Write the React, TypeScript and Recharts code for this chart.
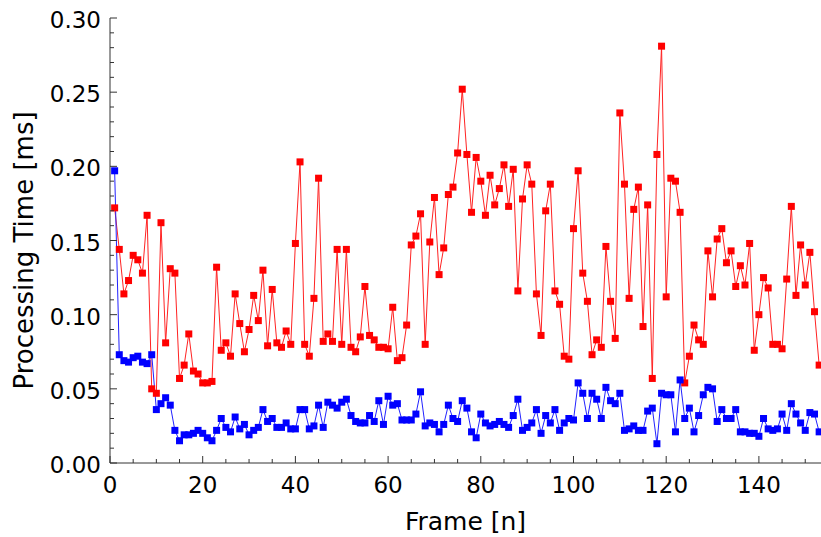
import { Label, Line, LineChart, XAxis, YAxis } from 'recharts'

// processing time per frame [ms], frames 1..153
const RED = [
  0.172, 0.144, 0.114, 0.123, 0.14, 0.137, 0.128, 0.167, 0.05, 0.047,
  0.162, 0.081, 0.131, 0.128, 0.057, 0.066, 0.087, 0.062, 0.06, 0.054,
  0.054, 0.055, 0.132, 0.076, 0.081, 0.072, 0.114, 0.094, 0.075, 0.09,
  0.113, 0.096, 0.13, 0.079, 0.117, 0.081, 0.078, 0.089, 0.08, 0.148,
  0.203, 0.08, 0.072, 0.111, 0.192, 0.082, 0.087, 0.082, 0.144, 0.08,
  0.144, 0.078, 0.075, 0.085, 0.119, 0.086, 0.083, 0.078, 0.078, 0.077,
  0.105, 0.069, 0.071, 0.093, 0.147, 0.153, 0.168, 0.08, 0.149, 0.179,
  0.127, 0.145, 0.181, 0.186, 0.209, 0.252, 0.208, 0.169, 0.206, 0.19,
  0.167, 0.194, 0.174, 0.185, 0.201, 0.173, 0.198, 0.116, 0.178, 0.201,
  0.188, 0.114, 0.086, 0.17, 0.188, 0.116, 0.107, 0.072, 0.07, 0.158,
  0.197, 0.128, 0.109, 0.073, 0.083, 0.078, 0.146, 0.109, 0.084, 0.236,
  0.188, 0.111, 0.171, 0.186, 0.092, 0.174, 0.057, 0.208, 0.281, 0.112,
  0.192, 0.19, 0.169, 0.054, 0.072, 0.093, 0.083, 0.08, 0.143, 0.112,
  0.151, 0.158, 0.135, 0.143, 0.119, 0.133, 0.12, 0.148, 0.076, 0.1,
  0.125, 0.118, 0.08, 0.08, 0.077, 0.124, 0.173, 0.113, 0.147, 0.12,
  0.142, 0.102, 0.066,
]

const BLUE = [
  0.197, 0.073, 0.069, 0.068, 0.071, 0.072, 0.068, 0.067, 0.073, 0.036,
  0.04, 0.044, 0.039, 0.022, 0.015, 0.019, 0.019, 0.02, 0.022, 0.02,
  0.017, 0.015, 0.022, 0.03, 0.024, 0.021, 0.031, 0.023, 0.026, 0.019,
  0.022, 0.024, 0.036, 0.028, 0.03, 0.024, 0.024, 0.027, 0.023, 0.023,
  0.036, 0.036, 0.023, 0.025, 0.039, 0.024, 0.041, 0.039, 0.037, 0.041,
  0.043, 0.032, 0.028, 0.027, 0.027, 0.032, 0.028, 0.042, 0.026, 0.045,
  0.039, 0.04, 0.029, 0.029, 0.029, 0.033, 0.048, 0.025, 0.027, 0.026,
  0.021, 0.026, 0.039, 0.03, 0.028, 0.042, 0.037, 0.021, 0.017, 0.033,
  0.027, 0.025, 0.026, 0.028, 0.026, 0.024, 0.032, 0.043, 0.022, 0.024,
  0.027, 0.036, 0.02, 0.032, 0.027, 0.036, 0.022, 0.027, 0.03, 0.029,
  0.054, 0.047, 0.03, 0.047, 0.043, 0.03, 0.051, 0.042, 0.04, 0.047,
  0.022, 0.023, 0.025, 0.022, 0.022, 0.035, 0.037, 0.013, 0.047, 0.046,
  0.046, 0.021, 0.056, 0.03, 0.037, 0.021, 0.032, 0.046, 0.051, 0.05,
  0.028, 0.036, 0.03, 0.03, 0.036, 0.021, 0.021, 0.02, 0.02, 0.018,
  0.03, 0.023, 0.022, 0.023, 0.033, 0.022, 0.04, 0.033, 0.027, 0.022,
  0.034, 0.033, 0.021,
]

const X_TICKS = [
  0, 5, 10, 15, 20, 25, 30, 35, 40, 45, 50, 55, 60, 65, 70, 75, 80, 85, 90,
  95, 100, 105, 110, 115, 120, 125, 130, 135, 140, 145, 150,
]
const Y_TICKS = [
  0, 0.01, 0.02, 0.03, 0.04, 0.05, 0.06, 0.07, 0.08, 0.09, 0.1, 0.11, 0.12,
  0.13, 0.14, 0.15, 0.16, 0.17, 0.18, 0.19, 0.2, 0.21, 0.22, 0.23, 0.24, 0.25,
  0.26, 0.27, 0.28, 0.29, 0.3,
]
const X_MAX = 153.4

const data = RED.map((r, i) => ({ frame: i + 1, red: r, blue: BLUE[i] }))

const FONT = '"DejaVu Sans", Verdana, sans-serif'
const AXIS = '#333'
const FS = 23

function BottomTick({ x, y, payload }: any) {
  const v = payload.value
  const major = v % 20 === 0
  return (
    <g>
      <line x1={x} y1={y} x2={x} y2={y - (major ? 7 : 4)} stroke={AXIS} />
      {major && (
        <text x={x} y={y + 30} textAnchor="middle" fontSize={FS} fontFamily={FONT} fill="#000">
          {v}
        </text>
      )}
    </g>
  )
}

function TopTick({ x, y, payload }: any) {
  const major = payload.value % 20 === 0
  return <line x1={x} y1={y} x2={x} y2={y + (major ? 7 : 4)} stroke={AXIS} />
}

function LeftTick({ x, y, payload }: any) {
  const v = payload.value
  const major = Math.round(v * 100) % 5 === 0
  return (
    <g>
      <line x1={x} y1={y} x2={x + (major ? 7 : 4)} y2={y} stroke={AXIS} />
      {major && (
        <text x={x - 9} y={y + 10} textAnchor="end" fontSize={FS} fontFamily={FONT} fill="#000">
          {v.toFixed(2)}
        </text>
      )}
    </g>
  )
}

function square(color: string) {
  return (props: any) => {
    const { cx, cy, index } = props
    if (cx == null || cy == null) return <g key={index} />
    return <rect key={index} x={cx - 3.5} y={cy - 3.5} width={7} height={7} fill={color} />
  }
}

function YTitle({ viewBox }: any) {
  const cx = viewBox.x + 24
  const cy = viewBox.y + viewBox.height / 2 + 10
  return (
    <text
      x={cx}
      y={cy}
      transform={`rotate(-90 ${cx} ${cy})`}
      textAnchor="middle"
      dominantBaseline="central"
      fontSize={26}
      fontFamily={FONT}
      fill="#000"
    >
      Processing Time [ms]
    </text>
  )
}

function XTitle({ viewBox }: any) {
  return (
    <text
      x={viewBox.x + viewBox.width / 2}
      y={viewBox.y + 67}
      textAnchor="middle"
      fontSize={25}
      fontFamily={FONT}
      fill="#000"
    >
      Frame [n]
    </text>
  )
}

export default function App() {
  return (
    <div style={{ position: 'absolute', left: 0, top: 0, background: '#fff' }}>
      <LineChart width={821} height={537} data={data} margin={{ top: 18, right: 0, bottom: 0, left: 0 }}>
        <XAxis
          dataKey="frame"
          type="number"
          domain={[0, X_MAX]}
          ticks={X_TICKS}
          interval={0}
          height={74}
          tickSize={0}
          tickMargin={0}
          tickLine={false}
          tick={<BottomTick />}
          stroke={AXIS}
          allowDataOverflow
        >
          <Label content={<XTitle />} />
        </XAxis>
        <XAxis
          xAxisId="top"
          orientation="top"
          dataKey="frame"
          type="number"
          domain={[0, X_MAX]}
          ticks={X_TICKS}
          interval={0}
          height={0}
          tickSize={0}
          tickMargin={0}
          tickLine={false}
          tick={<TopTick />}
          stroke={AXIS}
          allowDataOverflow
        />
        <YAxis
          type="number"
          domain={[0, 0.3]}
          ticks={Y_TICKS}
          interval={0}
          width={110}
          tickSize={0}
          tickMargin={0}
          tickLine={false}
          tick={<LeftTick />}
          stroke={AXIS}
          allowDataOverflow
        >
          <Label content={<YTitle />} />
        </YAxis>
        <Line
          type="linear"
          dataKey="red"
          stroke="#f22"
          strokeWidth={1}
          dot={square('#f00')}
          activeDot={false}
          isAnimationActive={false}
        />
        <Line
          type="linear"
          dataKey="blue"
          stroke="#22f"
          strokeWidth={1}
          dot={square('#00f')}
          activeDot={false}
          isAnimationActive={false}
        />
      </LineChart>
    </div>
  )
}
